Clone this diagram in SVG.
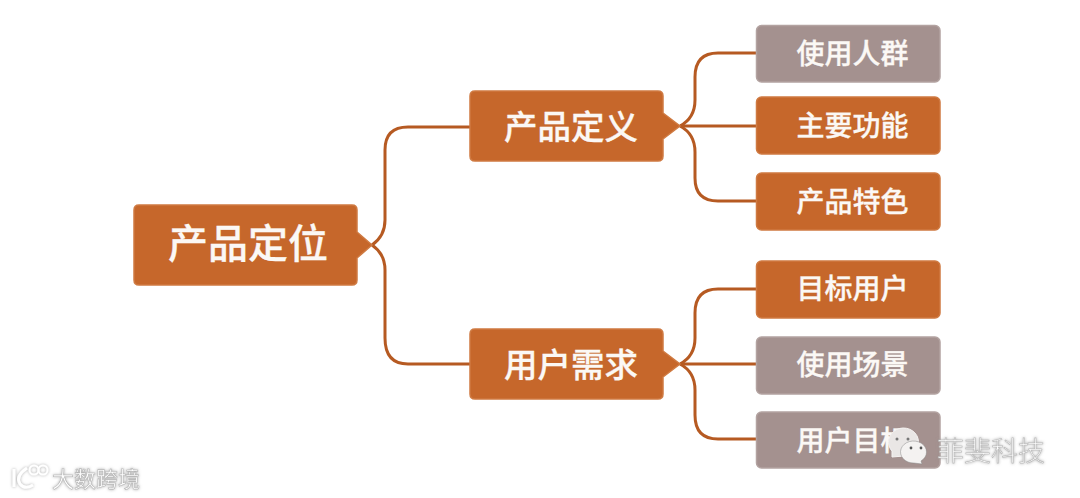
<svg xmlns="http://www.w3.org/2000/svg" width="1080" height="498" viewBox="0 0 1080 498">
<defs>
<style>
.box{stroke-width:1.5}
.o{fill:#c6672b;stroke:#cf7a42}
.g{fill:#a4918f;stroke:#b3a3a1}
.t{font-family:"Noto Sans CJK SC","Noto Sans",sans-serif;font-weight:500;fill:#fbf8f5;text-anchor:middle;stroke:#fbf8f5;stroke-width:.3}
.c{fill:none;stroke:#b65a22;stroke-width:3}
.wm{font-family:"Noto Sans CJK SC",sans-serif;fill:#fff;stroke:#b5b5b5;stroke-width:.6;text-anchor:middle}
</style>
<filter id="s" x="-20%" y="-40%" width="140%" height="180%"><feDropShadow dx="0" dy="0" stdDeviation="1.5" flood-color="#888" flood-opacity=".7"/></filter>
</defs>
<rect width="1080" height="498" fill="#fff"/>
<g id="connectors">
<path class="c" d="M372 245Q385 236 385 220V150Q385 127 408 127H470"/>
<path class="c" d="M372 245Q385 254 385 270V338Q385 364 408 364H470"/>
<path class="c" d="M680 126Q695 118 695 100V77Q695 53 718 53H756"/>
<path class="c" d="M680 126H756"/>
<path class="c" d="M680 126Q695 134 695 152V178Q695 201 718 201H756"/>
<path class="c" d="M680 364Q695 356 695 338V313Q695 289 718 289H756"/>
<path class="c" d="M680 364H756"/>
<path class="c" d="M680 364Q695 372 695 390V415Q695 439 718 439H756"/>
</g>
<g id="root"><path class="box o" d="M139 205H352Q357 205 357 210V232L372 245L357 258V280Q357 285 352 285H139Q134 285 134 280V210Q134 205 139 205Z"/><text class="t" x="248" y="258" font-size="40">产品定位</text></g>
<g id="n1"><path class="box o" d="M475 91H658Q663 91 663 96V113L680 126L663 139V156Q663 161 658 161H475Q470 161 470 156V96Q470 91 475 91Z"/><text class="t" x="571" y="139" font-size="33.5">产品定义</text></g>
<g id="n2"><path class="box o" d="M475 329H658Q663 329 663 334V351L680 364L663 377V394Q663 399 658 399H475Q470 399 470 394V334Q470 329 475 329Z"/><text class="t" x="571" y="377" font-size="33.5">用户需求</text></g>
<g id="a1"><rect class="box g" x="756.500" y="25.500" width="183.500" height="56.500" rx="5"/><text class="t" x="852.500" y="64" font-size="28">使用人群</text></g>
<g id="a2"><rect class="box o" x="756.500" y="97" width="183.500" height="57" rx="5"/><text class="t" x="852.500" y="136" font-size="28">主要功能</text></g>
<g id="a3"><rect class="box o" x="756.500" y="173" width="183.500" height="57" rx="5"/><text class="t" x="852.500" y="212" font-size="28">产品特色</text></g>
<g id="b1"><rect class="box o" x="756.500" y="261" width="183.500" height="57" rx="5"/><text class="t" x="852.500" y="299" font-size="28">目标用户</text></g>
<g id="b2"><rect class="box g" x="756.500" y="337" width="183.500" height="57" rx="5"/><text class="t" x="852.500" y="375" font-size="28">使用场景</text></g>
<g id="b3"><rect class="box g" x="756.500" y="412" width="183.500" height="56" rx="5"/><text class="t" x="852.500" y="451" font-size="28">用户目标</text></g>
<g id="wm-right">
<path d="M892 457L892 451A15 14 0 1 1 904 456Z" fill="#e9e6e5" stroke="#f5f3f2"/>
<circle cx="897" cy="439" r="1.5" fill="#777"/><circle cx="908" cy="439" r="1.5" fill="#777"/>
<path d="M922 464L921 461A13 11 0 1 0 914 463Z" fill="#f4f2f1" stroke="#888" stroke-width=".5"/>
<circle cx="911" cy="448" r="1.4" fill="#555"/><circle cx="921" cy="448" r="1.4" fill="#555"/>
<text class="wm" x="991" y="461" font-size="27" font-weight="300" filter="url(#s)">菲斐科技</text>
</g>
<g id="wm-left" filter="url(#s)">
<path d="M14 469V487M27 468Q15 476 20 484Q25 490 33 485" fill="none" stroke="#fff" stroke-width="3"/>
<circle cx="34" cy="470" r="4.500" fill="none" stroke="#fff" stroke-width="2"/><circle cx="43" cy="470" r="4.500" fill="none" stroke="#fff" stroke-width="2"/>
<text class="wm" x="96" y="487" font-size="22">大数跨境</text>
</g>
</svg>
